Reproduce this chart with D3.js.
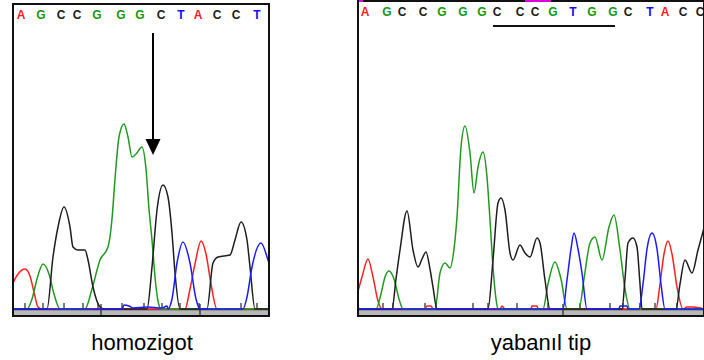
<!DOCTYPE html>
<html>
<head>
<meta charset="utf-8">
<script src="https://cdn.jsdelivr.net/npm/d3@7"></script>
<style>
  body { margin: 0; background: #fff; }
  .trace { fill: none; stroke-width: 1.5; stroke-linejoin: round; }
  .base { font-family: "Liberation Sans", Arial, sans-serif; font-weight: bold; font-size: 12px; text-anchor: middle; }
  .caption { font-family: "Liberation Sans", Arial, sans-serif; font-size: 22px; text-anchor: middle; }
</style>
</head>
<body>
<svg id="chart" width="704" height="360"></svg>
<script>
// base calls (scan position, letter)
const callsLeft = ["A","G","C","C","G","G","G","C","T","A","C","C","T"];
const callPosLeft = [9, 29, 49, 65, 85, 109, 128, 149, 169, 186, 205, 224, 245];
const callsRight = ["A","G","C","C","G","G","G","C","C","C","G","T","G","G","C","T","A","C","C"];
const callPosRight = [8, 30, 45, 66, 85, 106, 125, 140, 163, 178, 196, 216, 235, 256, 271, 293, 308, 326, 343];

// baseline tick marks (scan)
const ticksLeft = [13, 31, 52, 71, 86, 110, 132, 150, 168, 187, 229, 245];
const ticksRight = [26, 36, 68, 79, 116, 131, 160, 191, 223, 253, 266, 283, 298, 320];
const sepLeft = [89, 188];
const sepRight = [206];

// traces, [scan, signal]
const redLeft = [[0,24],[6,35],[13,40],[18,33],[22,17],[26,2],[30,0],[173,0],[178,20],[183,45],[189,68],[194,55],[199,25],[205,0],[257,0]];
const greenLeft = [[0,0],[15,0],[20,10],[25,30],[31,45],[37,35],[42,15],[48,0],[73,0],[80,20],[88,49],[96,62],[100,90],[103,130],[107,172],[112,185],[116,172],[120,152],[124,155],[130,162],[134,140],[137,100],[140,69],[143,32],[146,8],[149,0],[257,0]];
const blackLeft = [[0,0],[35,0],[41,52],[46,82],[52,102],[58,82],[61,62],[66,59],[73,59],[76,49],[81,22],[88,2],[92,0],[135,0],[140,42],[145,99],[151,124],[156,112],[160,76],[163,36],[168,0],[195,0],[201,46],[206,52],[218,54],[223,69],[229,87],[235,69],[238,42],[243,0],[257,0]];
const blueLeft = [[0,0],[110,0],[112,4],[117,3],[121,1],[135,2],[150,1],[155,3],[156,0],[160,10],[165,46],[171,67],[178,46],[184,10],[188,0],[231,0],[235,12],[240,42],[249,66],[256,49],[257,46]];

const redRight = [[0,14],[5,32],[11,50],[16,32],[21,8],[25,0],[68,0],[70,3],[74,3],[76,0],[143,0],[145,3],[148,0],[174,0],[175,3],[180,3],[181,0],[299,0],[303,25],[307,55],[311,68],[315,55],[320,22],[326,0],[330,2],[336,2],[347,0]];
const greenRight = [[0,0],[19,0],[24,15],[28,32],[32,38],[37,30],[42,10],[46,0],[78,0],[83,36],[88,46],[93,41],[97,60],[100,92],[104,162],[108,183],[113,156],[117,116],[121,142],[126,157],[130,132],[133,89],[136,42],[139,10],[141,0],[186,0],[191,25],[198,47],[204,30],[210,0],[222,0],[227,30],[233,66],[238,72],[245,49],[252,82],[257,94],[263,59],[268,20],[273,0],[347,0]];
const blackRight = [[0,0],[35,0],[39,30],[43,59],[50,98],[56,59],[61,42],[65,50],[69,57],[73,40],[76,22],[80,0],[131,0],[136,49],[141,106],[144,111],[148,99],[153,56],[156,49],[163,64],[168,56],[173,52],[180,71],[183,66],[188,29],[193,0],[265,0],[268,30],[271,66],[276,71],[280,62],[283,25],[285,0],[319,0],[323,25],[328,49],[335,36],[341,59],[347,81]];
const blueRight = [[0,0],[206,0],[210,29],[214,60],[217,76],[221,60],[225,36],[230,0],[262,0],[263,3],[270,3],[271,0],[282,0],[286,25],[290,60],[295,76],[300,60],[304,25],[308,0],[347,0]];

const captions = ["homozigot", "yabanıl tip"];

const baseColor = { A: "#ff1a1a", C: "#1a1a1a", G: "#119911", T: "#1010ff" };

const svg = d3.select("#chart");
const y = d3.scaleLinear().domain([0, 200]).range([309, 109]);

function drawPanel(id, x, frameTop, traces, calls, callPos, ticks, seps, caption, captionX) {
    const [x0, x1] = x.range();
    const g = svg.append("g");

    g.append("clipPath").attr("id", id)
        .append("rect").attr("x", x0).attr("y", 0).attr("width", x1 - x0).attr("height", 316);

    // gray baseline band
    g.append("rect").attr("x", x0).attr("y", 309).attr("width", x1 - x0).attr("height", 6).attr("fill", "#b8b8b8");
    g.append("line").attr("x1", x0).attr("x2", x1).attr("y1", 309.5).attr("y2", 309.5).attr("stroke", "#333").attr("stroke-width", 1.4);

    g.selectAll(".sep").data(seps).join("line")
        .attr("x1", d => x(d)).attr("x2", d => x(d))
        .attr("y1", 304).attr("y2", 316).attr("stroke", "#222").attr("stroke-width", 1.2);

    g.selectAll(".tick").data(ticks).join("line")
        .attr("x1", d => x(d)).attr("x2", d => x(d))
        .attr("y1", 303).attr("y2", 310).attr("stroke", "#222").attr("stroke-width", 1.2);

    const lineGen = d3.line().x(d => x(d[0])).y(d => y(d[1])).curve(d3.curveMonotoneX);

    g.append("g").attr("clip-path", `url(#${id})`)
        .selectAll("path").data(traces).join("path")
        .attr("class", "trace")
        .attr("stroke", d => d.color)
        .attr("d", d => lineGen(d.values));

    g.selectAll(".base").data(calls).join("text")
        .attr("class", "base")
        .attr("x", (d, i) => x(callPos[i]))
        .attr("y", frameTop + 15)
        .attr("fill", d => baseColor[d])
        .text(d => d);

    g.append("rect")
        .attr("x", x0 + 1).attr("y", frameTop).attr("width", x1 - x0 - 1).attr("height", 316 - frameTop)
        .attr("fill", "none").attr("stroke", "#111").attr("stroke-width", 2);

    svg.append("text").attr("class", "caption")
        .attr("x", captionX).attr("y", 350).text(caption);
}

const xLeft = d3.scaleLinear().domain([0, 257]).range([12, 269]);
const xRight = d3.scaleLinear().domain([0, 347]).range([357, 704]);

drawPanel("clipL", xLeft, 4,
    [{ color: "#ff2020", values: redLeft }, { color: "#1f9a1f", values: greenLeft },
     { color: "#1e1e1e", values: blackLeft }, { color: "#1a1aff", values: blueLeft }],
    callsLeft, callPosLeft, ticksLeft, sepLeft, captions[0], 142);

drawPanel("clipR", xRight, 1,
    [{ color: "#ff2020", values: redRight }, { color: "#1f9a1f", values: greenRight },
     { color: "#1e1e1e", values: blackRight }, { color: "#1a1aff", values: blueRight }],
    callsRight, callPosRight, ticksRight, sepRight, captions[1], 541);

// right panel runs past the view: hide its right edge
svg.append("rect").attr("x", 704).attr("y", 0).attr("width", 20).attr("height", 360).attr("fill", "#fff");

// magenta marks at top of right panel
svg.append("rect").attr("x", xRight(2)).attr("y", 0).attr("width", 4).attr("height", 2).attr("fill", "#dd00dd");
svg.append("rect").attr("x", xRight(168)).attr("y", 0).attr("width", 26).attr("height", 2).attr("fill", "#dd00dd");

// underline of the repeat region
svg.append("line")
    .attr("x1", xRight(136)).attr("x2", xRight(258))
    .attr("y1", 26).attr("y2", 26)
    .attr("stroke", "#111").attr("stroke-width", 2);

// arrow marking the mutation
const ax = xLeft(141);
svg.append("line").attr("x1", ax).attr("x2", ax).attr("y1", 33).attr("y2", 142)
    .attr("stroke", "#000").attr("stroke-width", 2);
svg.append("path")
    .attr("d", `M${ax - 7.5},139 L${ax + 7.5},139 L${ax},155 Z`)
    .attr("fill", "#000");
</script>
</body>
</html>
